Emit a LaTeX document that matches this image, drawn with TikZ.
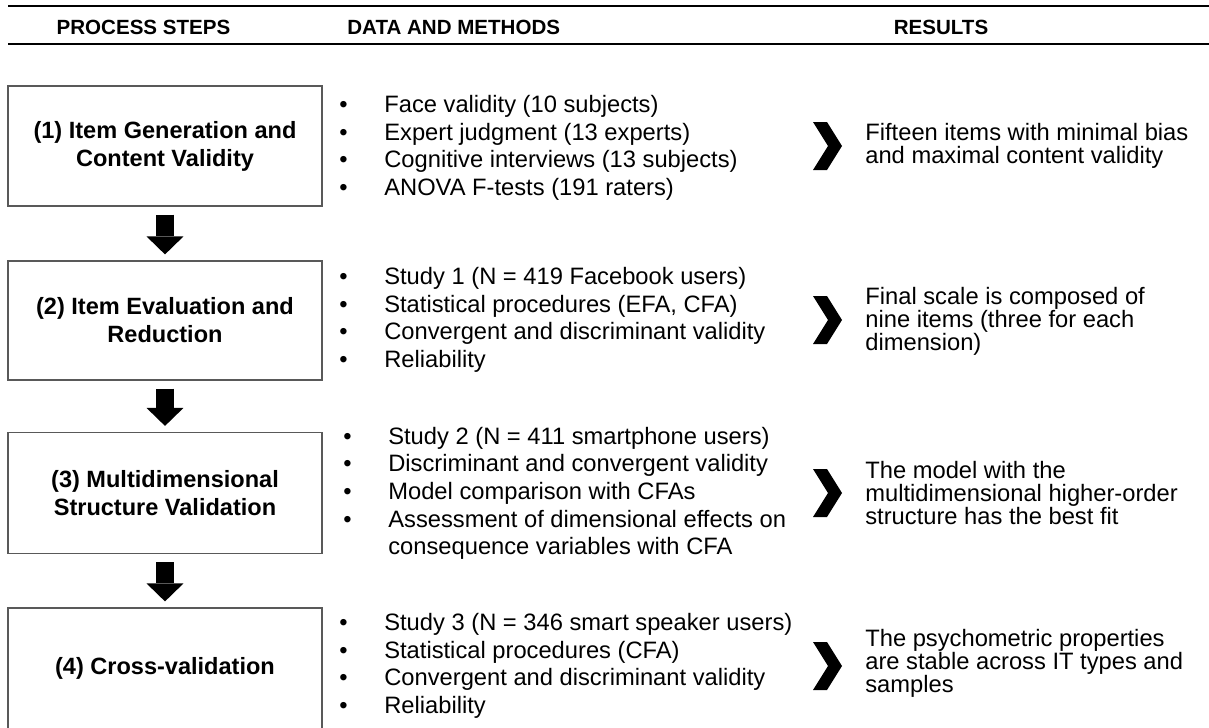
\documentclass[tikz,border=0pt]{standalone}
\usepackage{fontspec}
\setmainfont{Liberation Sans}
\usetikzlibrary{arrows.meta}

\begin{document}
\begin{tikzpicture}[x=0.02cm, y=-0.02cm,
    stepbox/.style={draw=black!65, line width=0.7pt, minimum width=6.28cm, inner sep=0pt, align=center, font=\fontsize{13.4}{15.9}\selectfont\bfseries},
    headtext/.style={inner sep=0pt, font=\fontsize{11.7}{14}\selectfont\bfseries},
    methods/.style={anchor=west, inner sep=0pt, font=\fontsize{13.5}{15.7}\selectfont},
    result/.style={anchor=west, inner sep=0pt, align=left, font=\fontsize{13.5}{13.1}\selectfont},
    flowarrow/.style={line width=0.36cm, shorten <=0.16cm, shorten >=0.12cm, -{Triangle[width=0.74cm, length=0.36cm, line width=0pt]}}]
    \useasboundingbox (0,0) rectangle (1209,727);

    \draw[line width=1pt] (8,6) -- (1209,6);
    \draw[line width=1pt] (8,44) -- (1209,44);
    \node[headtext] (hsteps) at (143.5,27.5) {PROCESS STEPS};
    \node[headtext, anchor=west] (hdata) at (347,27.5) {DATA AND METHODS};
    \node[headtext] (hres) at (941,27.5) {RESULTS};

    \node[stepbox, minimum height=2.4cm] (b1) at (165,146) {(1) Item Generation and\\Content Validity};
    \node[stepbox, minimum height=2.38cm] (b2) at (165,320.5) {(2) Item Evaluation and\\Reduction};
    \node[stepbox, minimum height=2.42cm] (b3) at (165,493) {(3) Multidimensional\\Structure Validation};
    \node[stepbox, minimum height=2.42cm] (b4) at (165,668.5) {(4) Cross-validation};

    \draw[flowarrow] (b1.south) -- (b2.north);
    \draw[flowarrow] (b2.south) -- (b3.north);
    \draw[flowarrow] (b3.south) -- (b4.north);

    \node[methods] (m1) at (339,148.5) {\begin{tabular}{@{}p{0.9cm}@{}l@{}}
        \textbullet & Face validity (10 subjects)\\
        \textbullet & Expert judgment (13 experts)\\
        \textbullet & Cognitive interviews (13 subjects)\\
        \textbullet & ANOVA F-tests (191 raters)
    \end{tabular}};
    \node[methods] (m2) at (339,320.5) {\begin{tabular}{@{}p{0.9cm}@{}l@{}}
        \textbullet & Study 1 (N = 419 Facebook users)\\
        \textbullet & Statistical procedures (EFA, CFA)\\
        \textbullet & Convergent and discriminant validity\\
        \textbullet & Reliability
    \end{tabular}};
    \node[methods] (m3) at (343,494) {\begin{tabular}{@{}p{0.9cm}@{}l@{}}
        \textbullet & Study 2 (N = 411 smartphone users)\\
        \textbullet & Discriminant and convergent validity\\
        \textbullet & Model comparison with CFAs\\
        \textbullet & Assessment of dimensional effects on\\
                    & consequence variables with CFA
    \end{tabular}};
    \node[methods] (m4) at (339,666.5) {\begin{tabular}{@{}p{0.9cm}@{}l@{}}
        \textbullet & Study 3 (N = 346 smart speaker users)\\
        \textbullet & Statistical procedures (CFA)\\
        \textbullet & Convergent and discriminant validity\\
        \textbullet & Reliability
    \end{tabular}};

    \foreach \m in {146,320,493,666}
        \fill (813,\m-24) -- (827,\m-24) -- (842,\m) -- (827,\m+24) -- (813,\m+24) -- (828,\m) -- cycle;

    \node[result] (r1) at (865,146) {Fifteen items with minimal bias\\and maximal content validity};
    \node[result] (r2) at (865,321) {Final scale is composed of\\nine items (three for each\\dimension)};
    \node[result] (r3) at (865,493) {The model with the\\multidimensional higher-order\\structure has the best fit};
    \node[result] (r4) at (865,663) {The psychometric properties\\are stable across IT types and\\samples};
\end{tikzpicture}
\end{document}
